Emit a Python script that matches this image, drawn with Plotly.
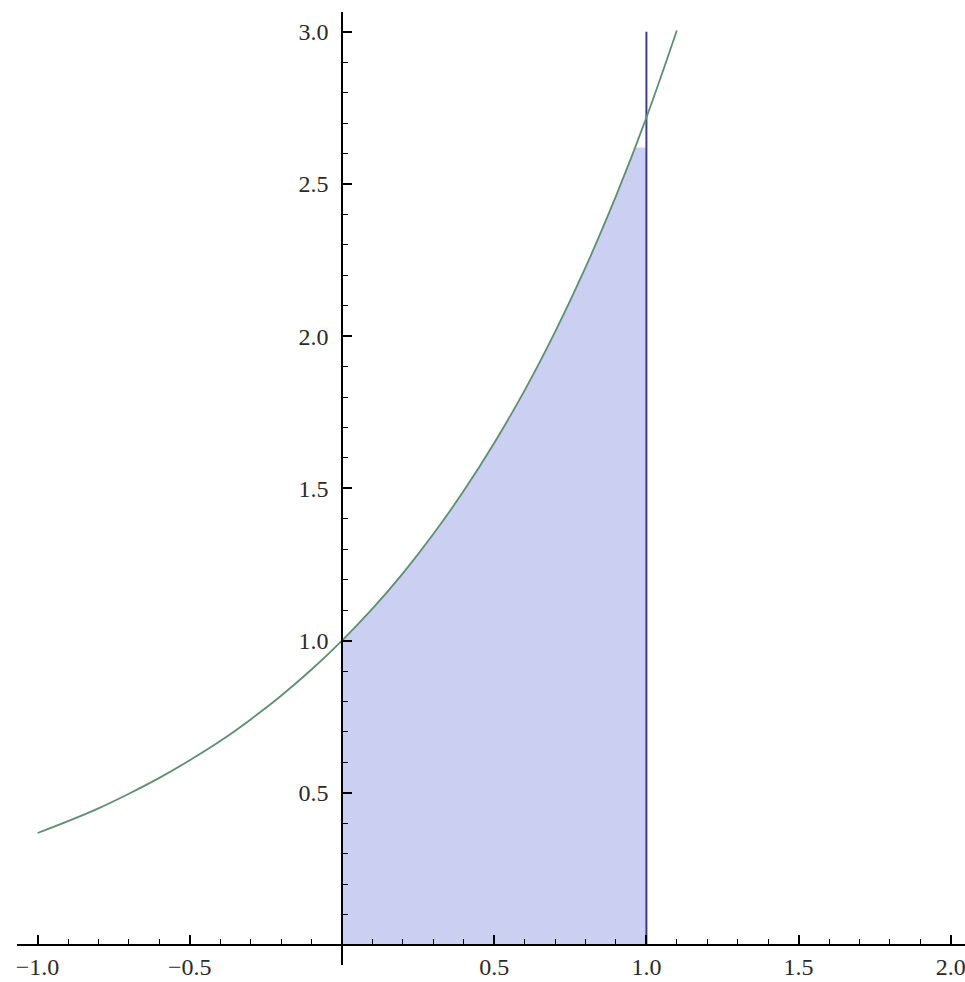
import plotly.graph_objects as go

# curve samples (y = value)
curve_x = [-1.0, -0.9, -0.8, -0.7, -0.6, -0.5, -0.4, -0.3, -0.2, -0.1, 0.0,
           0.1, 0.2, 0.3, 0.4, 0.5, 0.6, 0.7, 0.8, 0.9, 1.0, 1.1]
curve_y = [0.368, 0.407, 0.449, 0.497, 0.549, 0.607, 0.670, 0.741, 0.819, 0.905, 1.000,
           1.105, 1.221, 1.350, 1.492, 1.649, 1.822, 2.014, 2.226, 2.460, 2.718, 3.004]

# shaded region outline
fill_x = [0.0, 0.1, 0.2, 0.3, 0.4, 0.5, 0.6, 0.7, 0.8, 0.9, 0.963, 1.0, 1.0, 0.0]
fill_y = [1.000, 1.105, 1.221, 1.350, 1.492, 1.649, 1.822, 2.014, 2.226, 2.460, 2.62, 2.62, 0.0, 0.0]

# vertical line at x = 1
vline_x = [1.0, 1.0]
vline_y = [0.0, 3.0]

xtick_vals = [-1.0, -0.5, 0.5, 1.0, 1.5, 2.0]
xtick_text = ["\u22121.0", "\u22120.5", "0.5", "1.0", "1.5", "2.0"]
ytick_vals = [0.5, 1.0, 1.5, 2.0, 2.5, 3.0]
ytick_text = ["0.5", "1.0", "1.5", "2.0", "2.5", "3.0"]

W, H = 965, 982
x0_px, y0_px, scale = 342.0, 945.0, 304.4
xl_px, xr_px = 17.0, 965.0
yt_px, yb_px = 12.0, 965.0

fig = go.Figure()
fig.add_trace(go.Scatter(x=fill_x, y=fill_y, fill="toself", mode="lines",
                         line=dict(width=0), fillcolor="#cbd0f3", hoverinfo="skip"))
fig.add_trace(go.Scatter(x=vline_x, y=vline_y, mode="lines",
                         line=dict(color="#3b3e8e", width=2)))
fig.add_trace(go.Scatter(x=curve_x, y=curve_y, mode="lines",
                         line=dict(color="#5e8f70", width=1.8, shape="spline")))

font = dict(family="Liberation Serif, Times New Roman, serif", size=24, color="#2a2a2a")

fig.update_layout(
    width=W, height=H, showlegend=False,
    margin=dict(l=0, r=0, t=0, b=0, pad=0),
    paper_bgcolor="white", plot_bgcolor="white",
    xaxis=dict(
        domain=[xl_px / W, xr_px / W],
        range=[(xl_px - x0_px) / scale, (xr_px - x0_px) / scale],
        anchor="free", position=(H - y0_px) / H, automargin=False,
        showgrid=False, zeroline=False,
        showline=True, linecolor="black", linewidth=1.5,
        tickmode="array", tickvals=xtick_vals, ticktext=xtick_text,
        ticks="inside", ticklen=9, tickwidth=1.5, tickcolor="black",
        tickfont=font, ticklabeloverflow="allow",
        minor=dict(dtick=0.1, tick0=0, ticks="inside", ticklen=5, tickwidth=1.2, tickcolor="black", showgrid=False),
    ),
    yaxis=dict(
        domain=[(H - yb_px) / H, (H - yt_px) / H],
        range=[(y0_px - yb_px) / scale, (y0_px - yt_px) / scale],
        anchor="free", position=x0_px / W, automargin=False,
        showgrid=False, zeroline=False,
        showline=True, linecolor="black", linewidth=1.5,
        tickmode="array", tickvals=ytick_vals, ticktext=ytick_text,
        ticks="inside", ticklen=9, tickwidth=1.5, tickcolor="black",
        tickfont=font, ticklabeloverflow="allow", ticklabelstandoff=8,
        minor=dict(dtick=0.1, tick0=0, ticks="inside", ticklen=5, tickwidth=1.2, tickcolor="black", showgrid=False),
    ),
)

fig.write_html("out.html", config={"displayModeBar": False},
               post_script="document.body.style.margin='0';document.body.style.overflow='hidden';")
